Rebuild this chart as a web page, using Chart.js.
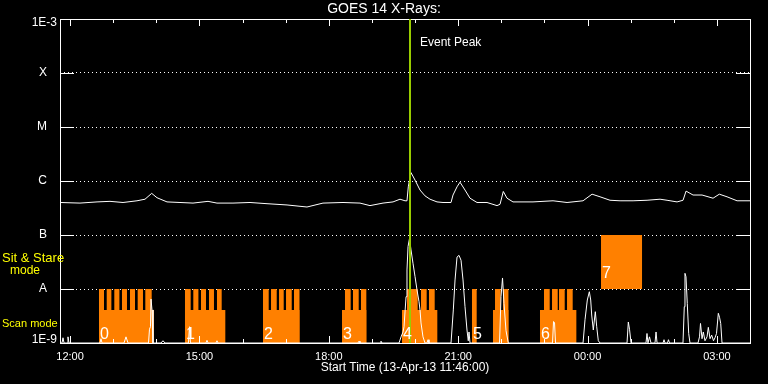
<!DOCTYPE html>
<html>
<head>
<meta charset="utf-8">
<title>GOES 14 X-Rays</title>
<script src="https://cdn.jsdelivr.net/npm/chart.js@4.4.1/dist/chart.umd.min.js"></script>
<style>
  html, body { margin: 0; padding: 0; background: #000; }
  #wrap { width: 768px; height: 384px; }
</style>
</head>
<body>
<div id="wrap"><canvas id="goesChart" width="768" height="384"></canvas></div>
<script>
// time is in hours of 13-Apr-13, values past 24 run into 14-Apr
const startHour = 11 + 46 / 60;
const endHour = startHour + 16;
const hourTicks = [12, 13, 14, 15, 16, 17, 18, 19, 20, 21, 22, 23, 24, 25, 26, 27];
const yTickValues = [1e-9, 1e-8, 1e-7, 1e-6, 1e-5, 1e-4, 1e-3];
const yTickLabels = ["1E-9", "A", "B", "C", "M", "X", "1E-3"];
const eventPeak = 19.883;

// GOES long channel (1-8 A)
const longTimes = [11.767, 12.230, 12.625, 12.926, 13.228, 13.552, 13.738, 13.893, 14.016, 14.248,
  14.549, 14.851, 15.199, 15.407, 15.778, 16.173, 16.567, 17.031, 17.494, 17.865,
  18.329, 18.723, 18.955, 19.257, 19.489, 19.651, 19.767, 19.813, 19.843, 19.906,
  19.999, 20.115, 20.231, 20.347, 20.509, 20.648, 20.834, 20.880, 20.973, 21.042,
  21.158, 21.274, 21.436, 21.668, 21.900, 21.970, 22.046, 22.132, 22.271, 22.735,
  23.199, 23.524, 23.895, 24.104, 24.289, 24.521, 24.753, 25.055, 25.379, 25.681,
  25.843, 26.075, 26.214, 26.284, 26.446, 26.655, 26.910, 27.055, 27.234, 27.466, 27.767];
const longFlux = [4.0e-7, 3.9e-7, 4.1e-7, 4.2e-7, 4.0e-7, 4.3e-7, 4.6e-7, 5.9e-7, 4.9e-7, 4.1e-7,
  4.0e-7, 3.9e-7, 4.2e-7, 3.9e-7, 3.9e-7, 4.0e-7, 3.8e-7, 3.6e-7, 3.3e-7, 3.9e-7,
  4.0e-7, 3.9e-7, 3.5e-7, 3.9e-7, 4.1e-7, 4.6e-7, 4.3e-7, 4.3e-7, 7.8e-7, 1.43e-6,
  1.04e-6, 6.8e-7, 5.3e-7, 4.6e-7, 4.1e-7, 4.0e-7, 4.0e-7, 5.5e-7, 7.8e-7, 9.5e-7,
  6.8e-7, 4.8e-7, 4.0e-7, 4.0e-7, 3.5e-7, 3.7e-7, 6.4e-7, 4.8e-7, 4.1e-7, 4.1e-7,
  4.3e-7, 4.0e-7, 4.3e-7, 5.7e-7, 5.1e-7, 4.4e-7, 4.3e-7, 4.3e-7, 4.4e-7, 4.6e-7,
  4.4e-7, 4.1e-7, 4.4e-7, 6.5e-7, 5.5e-7, 5.5e-7, 4.8e-7, 5.7e-7, 5.1e-7, 4.3e-7, 4.3e-7];

// GOES short channel (0.5-4 A)
const shortTimes = [11.767, 11.813, 11.836, 11.860, 11.929, 11.952, 11.975,
  12.694, 12.717, 12.741, 13.251, 13.297, 13.344,
  13.819, 13.842, 13.865, 13.877, 13.900, 13.923, 14.109, 14.155, 14.202,
  14.745, 14.769, 14.792, 15.152, 15.175, 15.199, 15.384, 15.407, 15.430,
  18.677, 18.700, 18.723, 19.187, 19.210, 19.233,
  19.628, 19.675, 19.721, 19.744, 19.791, 19.813, 19.837, 19.871, 19.906, 19.952,
  19.999, 20.045, 20.092, 20.115, 20.138, 20.184, 20.231, 20.277, 20.300, 20.323,
  20.834, 20.887, 20.927, 20.973, 21.019, 21.066, 21.112, 21.158, 21.204, 21.234, 21.251, 21.274,
  21.959, 21.993, 22.028, 22.062, 22.109, 22.162,
  23.187, 23.211, 23.234, 23.257,
  23.895, 23.941, 23.994, 24.041, 24.073, 24.096, 24.133, 24.180, 24.212, 24.249, 24.289,
  24.915, 24.945, 24.973, 25.008, 25.355, 25.378, 25.401, 25.436, 25.471,
  25.564, 25.588, 25.611, 25.750, 25.773, 25.796, 25.853, 25.876, 25.900,
  26.213, 26.243, 26.259, 26.282, 26.312, 26.345, 26.375,
  26.561, 26.596, 26.619, 26.654, 26.684, 26.723, 26.770, 26.800, 26.840, 26.878,
  26.920, 26.955, 26.990, 27.032, 27.060, 27.088, 27.118, 27.767];
const shortFlux = [1e-9, 1e-9, 1.25e-9, 1e-9, 1e-9, 1.3e-9, 1e-9,
  1e-9, 1.2e-9, 1e-9, 1e-9, 1.3e-9, 1e-9,
  1e-9, 1.8e-9, 2e-9, 6.5e-9, 4.1e-9, 1e-9, 1e-9, 1.1e-9, 1e-9,
  1e-9, 2e-9, 1e-9, 1e-9, 1.12e-9, 1e-9, 1e-9, 1.1e-9, 1e-9,
  1e-9, 1.08e-9, 1e-9, 1e-9, 1.08e-9, 1e-9,
  1e-9, 1.3e-9, 1.6e-9, 2.0e-9, 7.2e-9, 2.25e-8, 6.1e-8, 8.6e-8, 5.3e-8, 3.0e-8,
  1.7e-8, 9.6e-9, 5.8e-9, 4.1e-9, 2.35e-9, 1.3e-9, 1e-9, 1e-9, 1.15e-9, 1e-9,
  1e-9, 4.1e-9, 1.47e-8, 3.9e-8, 4.2e-8, 3.4e-8, 1.47e-8, 4.7e-9, 1.74e-9, 1.1e-9, 1.6e-9, 1e-9,
  1e-9, 7.2e-9, 1.6e-8, 5.4e-9, 1.7e-9, 1e-9,
  1e-9, 2.5e-9, 2.4e-9, 1e-9,
  1e-9, 2.7e-9, 6.25e-9, 8.9e-9, 6.25e-9, 3.3e-9, 1.74e-9, 3.8e-9, 2e-9, 1.1e-9, 1e-9,
  1e-9, 2.45e-9, 1.8e-9, 1e-9, 1e-9, 1.5e-9, 1e-9, 1.3e-9, 1e-9,
  1e-9, 1.6e-9, 1e-9, 1e-9, 1.15e-9, 1e-9, 1e-9, 1.15e-9, 1e-9,
  1e-9, 4.7e-9, 1.95e-8, 1.69e-8, 5.4e-9, 1.5e-9, 1e-9,
  1e-9, 1.3e-9, 2.3e-9, 1.2e-9, 1.6e-9, 1.1e-9, 1.3e-9, 1.95e-9, 1.2e-9, 1.4e-9,
  1.1e-9, 1.25e-9, 1.5e-9, 3.55e-9, 3e-9, 2.3e-9, 1e-9, 1e-9];

// IRIS observing windows [start, end] in hours
const scanBlocks = [[12.671, 13.946], [14.665, 15.600], [16.474, 17.320], [18.306, 18.870],
  [19.697, 20.516], [21.807, 22.165], [22.897, 23.740]];
const scanRasters = [[12.671, 12.787], [12.850, 12.958], [13.026, 13.144], [13.204, 13.320],
  [13.390, 13.506], [13.568, 13.691], [13.745, 13.893],
  [14.665, 14.797], [14.858, 14.976], [15.036, 15.152], [15.222, 15.337], [15.407, 15.516],
  [16.474, 16.606], [16.660, 16.792], [16.846, 16.954], [17.008, 17.140], [17.193, 17.320],
  [18.375, 18.507], [18.561, 18.693], [18.746, 18.870],
  [19.813, 20.061], [20.138, 20.269], [20.323, 20.455],
  [21.320, 21.429], [21.854, 21.986], [22.039, 22.165],
  [22.990, 23.122], [23.176, 23.308], [23.338, 23.470], [23.524, 23.655]];
const sitStare = [[24.312, 25.263]];
const obsStarts = [12.671, 14.665, 16.474, 18.306, 19.697, 21.320, 22.897, 24.312];
const obsLabels = ["0", "1", "2", "3", "4", "5", "6", "7"];
const scanBase = 4.1e-9;
const scanTop = 1e-8;
const sitLow = 1e-8;
const sitHigh = 1e-7;
const offFlux = 1e-10;

const orange = "#ff8000";
const white = "#ffffff";
const yellow = "#ffff00";
const green = "#99cc00";

function toPoints(times, values) {
  return times.map((t, i) => ({ x: t, y: values[i] }));
}
function stepPoints(intervals, level, floor) {
  const pts = [{ x: startHour, y: floor }];
  intervals.forEach(([a, b]) => {
    pts.push({ x: a, y: level });
    pts.push({ x: b, y: floor });
  });
  pts.push({ x: endHour, y: floor });
  return pts;
}
function hourLabel(h) {
  if (h % 3 !== 0) return "";
  return String(h % 24).padStart(2, "0") + ":00";
}
function yLabel(i) {
  const lab = yTickLabels[i];
  if (i === 0) return [lab, ""];
  if (i === yTickLabels.length - 1) return ["", lab];
  return lab + "   ";
}
function yFont(c) {
  let lh = 1.2;
  if (c.index === 0) lh = "6px";
  if (c.index === yTickValues.length - 1) lh = "8px";
  return { family: "Liberation Sans", size: 12, lineHeight: lh };
}

const framePlugin = {
  id: "frame",
  afterDatasetsDraw(chart) {
    const { ctx, chartArea: a, scales: { x, y } } = chart;
    ctx.save();
    ctx.strokeStyle = white;
    ctx.lineWidth = 1;
    ctx.strokeRect(a.left + 0.5, a.top + 0.5, a.right - a.left, a.bottom - a.top);
    ctx.beginPath();
    hourTicks.forEach(h => {
      const px = Math.round(x.getPixelForValue(h)) + 0.5;
      const len = h % 3 === 0 ? 7 : 4;
      ctx.moveTo(px, a.top); ctx.lineTo(px, a.top + len);
      ctx.moveTo(px, a.bottom); ctx.lineTo(px, a.bottom - len);
    });
    yTickValues.slice(1, -1).forEach(v => {
      const py = Math.round(y.getPixelForValue(v)) + 0.5;
      ctx.moveTo(a.left, py); ctx.lineTo(a.left + 14, py);
      ctx.moveTo(a.right - 14, py); ctx.lineTo(a.right, py);
    });
    ctx.stroke();

    // event peak marker
    const ex = Math.round(x.getPixelForValue(eventPeak));
    ctx.strokeStyle = green;
    ctx.lineWidth = 2;
    ctx.beginPath();
    ctx.moveTo(ex, a.top); ctx.lineTo(ex, a.bottom);
    ctx.stroke();
    ctx.fillStyle = white;
    ctx.font = "12px 'Liberation Sans'";
    ctx.textBaseline = "middle";
    ctx.textAlign = "left";
    ctx.fillText("Event Peak", ex + 10, a.top + 24);

    // observation numbers
    ctx.font = "16px 'Liberation Sans'";
    ctx.textBaseline = "alphabetic";
    obsStarts.forEach((t, i) => {
      const px = x.getPixelForValue(t) + 1;
      const isSit = sitStare.some(([s]) => s === t);
      const py = isSit ? y.getPixelForValue(sitLow) - 11 : a.bottom - 4;
      ctx.fillText(obsLabels[i], px, py);
    });

    // mode captions
    ctx.fillStyle = yellow;
    ctx.textBaseline = "middle";
    ctx.font = "13px 'Liberation Sans'";
    ctx.fillText("Sit & Stare", 2, y.getPixelForValue(sitLow) - 31);
    ctx.font = "12px 'Liberation Sans'";
    ctx.textAlign = "center";
    ctx.fillText("mode", 25, y.getPixelForValue(sitLow) - 18);
    ctx.textAlign = "left";
    ctx.font = "11px 'Liberation Sans'";
    ctx.fillText("Scan mode", 2, a.bottom - 19);
    ctx.restore();
  }
};

new Chart(document.getElementById("goesChart"), {
  type: "line",
  data: {
    datasets: [
      {
        label: "Long",
        data: toPoints(longTimes, longFlux),
        borderColor: white,
        borderWidth: 1,
        pointRadius: 0,
        fill: false,
        order: 1
      },
      {
        label: "Short",
        data: toPoints(shortTimes, shortFlux),
        borderColor: white,
        borderWidth: 1,
        pointRadius: 0,
        fill: false,
        order: 1
      },
      {
        label: "Scan base",
        data: stepPoints(scanBlocks, scanBase, offFlux),
        stepped: true,
        fill: "start",
        backgroundColor: orange,
        borderColor: "rgba(0,0,0,0)",
        borderWidth: 0,
        pointRadius: 0,
        order: 3
      },
      {
        label: "Scan rasters",
        data: stepPoints(scanRasters, scanTop, offFlux),
        stepped: true,
        fill: "start",
        backgroundColor: orange,
        borderColor: "rgba(0,0,0,0)",
        borderWidth: 0,
        pointRadius: 0,
        order: 3
      },
      {
        label: "Sit and stare",
        data: stepPoints(sitStare, sitHigh, sitLow),
        stepped: true,
        fill: { value: sitLow },
        backgroundColor: orange,
        borderColor: "rgba(0,0,0,0)",
        borderWidth: 0,
        pointRadius: 0,
        order: 3
      }
    ]
  },
  options: {
    responsive: false,
    animation: false,
    events: [],
    layout: { padding: 0 },
    plugins: {
      legend: { display: false },
      tooltip: { enabled: false },
      title: {
        display: true,
        text: "GOES 14 X-Rays:",
        color: white,
        font: { family: "Liberation Sans", size: 14, weight: "normal" },
        padding: { top: 1, bottom: 1.2 }
      }
    },
    scales: {
      x: {
        type: "linear",
        position: "bottom",
        min: startHour,
        max: endHour,
        afterBuildTicks: s => { s.ticks = hourTicks.map(v => ({ value: v })); },
        afterFit: s => { s.height = 41; },
        grid: { display: false, drawTicks: false },
        border: { display: false },
        ticks: {
          color: white,
          font: { family: "Liberation Sans", size: 11 },
          padding: 7,
          autoSkip: false,
          maxRotation: 0,
          callback: v => hourLabel(v)
        },
        title: {
          display: true,
          text: "Start Time (13-Apr-13 11:46:00)",
          color: white,
          font: { family: "Liberation Sans", size: 12 },
          padding: { top: 0, bottom: 9 }
        }
      },
      y: {
        type: "logarithmic",
        position: "left",
        min: 1e-9,
        max: 1e-3,
        afterBuildTicks: s => { s.ticks = yTickValues.map(v => ({ value: v })); },
        afterFit: s => { s.width = 60; },
        grid: { color: white, lineWidth: 1, drawTicks: false },
        border: { display: false, dash: [1, 3] },
        ticks: {
          color: white,
          font: yFont,
          padding: 3,
          autoSkip: false,
          callback: (v, i) => yLabel(i)
        }
      },
      y2: {
        type: "logarithmic",
        position: "right",
        min: 1e-9,
        max: 1e-3,
        afterFit: s => { s.width = 18; },
        grid: { display: false, drawTicks: false },
        border: { display: false },
        ticks: { display: false }
      }
    }
  },
  plugins: [framePlugin]
});
</script>
</body>
</html>
